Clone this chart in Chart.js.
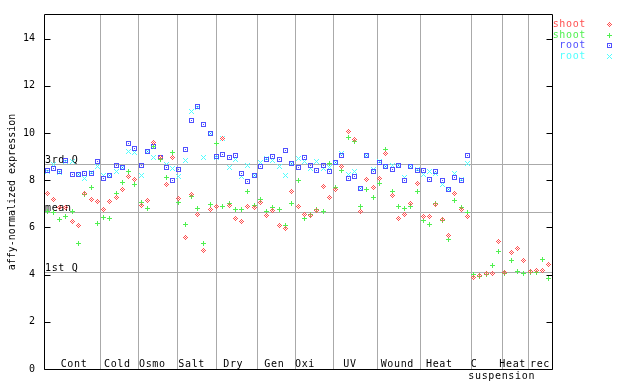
<!DOCTYPE html>
<html><head><meta charset="utf-8">
<script src="https://cdn.jsdelivr.net/npm/chart.js@4"></script>
<style>html,body{margin:0;padding:0;background:#fff}</style>
</head><body>
<canvas id="c" width="640" height="384"></canvas>
<script>
// ---- data (index = sample position 0..80) ----
const shootA = [7.45,7.20,6.85,6.85,6.27,6.06,7.45,7.20,7.10,6.76,7.10,7.27,7.61,8.15,8.04,6.94,7.14,9.61,8.97,7.82,8.97,7.23,5.58,7.40,6.55,5.03,6.76,6.90,9.76,6.94,6.38,6.25,6.90,6.84,7.06,6.52,6.72,6.06,5.96,7.52,6.90,6.56,6.51,6.72,7.75,7.27,7.62,8.56,10.07,9.73,6.68,8.03,7.69,8.07,9.15,7.34,6.38,6.56,7.01,7.86,6.48,6.48,6.99,6.34,5.65,7.44,6.76,6.47,3.89,3.96,4.06,4.06,5.42,4.10,4.94,5.11,4.58,4.13,4.18,4.16,4.41];
const shootB = [6.68,6.63,6.34,6.47,6.68,5.30,7.41,7.70,6.18,6.44,6.38,7.43,7.90,8.38,7.82,7.07,6.78,9.44,8.88,8.12,9.17,7.06,6.14,7.32,6.80,5.30,6.99,9.55,6.87,7.02,6.76,6.76,7.52,6.94,7.20,6.68,6.84,6.76,6.10,7.03,7.99,6.38,6.55,6.76,6.68,8.71,7.69,8.41,9.83,9.66,6.89,7.61,7.28,7.85,9.31,7.51,6.89,6.80,6.89,7.52,6.30,6.14,7.01,6.28,5.49,7.14,6.85,6.65,4.01,3.94,4.00,4.39,5.00,4.06,4.58,4.14,4.03,4.07,4.10,4.66,3.82];
const rootA = [8.39,8.50,8.35,8.82,8.24,8.26,8.28,8.28,8.78,8.09,8.21,8.61,8.55,9.55,9.34,8.61,9.20,9.44,8.98,8.55,8.00,8.46,9.30,10.52,11.12,10.35,9.96,8.99,9.09,8.97,9.04,8.28,7.96,8.18,8.58,8.86,9.00,8.87,9.25,8.71,8.54,8.96,8.62,8.41,8.62,8.37,8.73,9.04,8.07,8.17,7.63,9.03,8.38,8.76,8.58,8.45,8.61,7.99,8.58,8.42,8.41,8.03,8.37,7.99,7.59,8.11,8.00,9.04,null,null,null,null,null,null,null,null,null,null,null,null,null];
const rootB = [8.35,8.66,8.33,8.80,8.78,8.26,8.07,8.33,8.59,8.21,8.21,8.35,8.55,9.23,9.17,8.20,9.20,8.97,8.97,8.66,8.49,8.17,8.85,10.92,11.10,8.96,9.96,8.97,9.76,8.55,8.87,8.16,8.62,8.21,8.73,8.92,8.85,8.59,8.20,8.70,8.92,8.80,8.49,8.80,8.49,8.52,8.73,9.13,8.24,8.38,7.63,9.03,8.47,8.80,8.58,8.61,8.61,8.10,8.58,8.47,8.24,8.37,8.27,7.82,7.59,8.28,8.04,8.71,null,null,null,null,null,null,null,null,null,null,null,null,null];

const seriesLabels = ['shoot','shoot','root','root'];
const groupLabels = ['Cont','Cold','Osmo','Salt','Dry','Gen','Oxi','UV','Wound','Heat','C','Heat','rec'];
const groupLabelPos = [4.28,11.19,16.77,23.05,29.68,36.22,41.12,48.29,55.84,62.53,68.06,74.23,78.59];
const subLabel = 'suspension';
const subLabelPos = 72.48;
const groupBounds = [8.48,14.54,20.66,26.88,33.51,39.52,45.63,52.55,59.45,67.54,72.58,76.67];
const qLabels = ['3rd Q','mean','1st Q'];
const qValues = [8.70,6.65,4.10];
const yTickValues = [0,2,4,6,8,10,12,14];

// ---- marker bitmaps ----
function bitmap(rows, color){
  const c=document.createElement('canvas'); c.width=rows[0].length; c.height=rows.length;
  const g=c.getContext('2d'); g.fillStyle=color;
  rows.forEach((r,j)=>{for(let i=0;i<r.length;i++) if(r[i]==='X') g.fillRect(i,j,1,1);});
  return c;
}
const colors = ['#ff5050','#50f050','#5050ff','#50ffff'];
const markers = [
  bitmap(['..X..','.X.X.','X.X.X','.X.X.','..X..'], colors[0]),
  bitmap(['..X..','..X..','XXXXX','..X..','..X..'], colors[1]),
  bitmap(['XXXXX','X...X','X.X.X','X...X','XXXXX'], colors[2]),
  bitmap(['X...X','.X.X.','..X..','.X.X.','X...X'], colors[3])
];
const toPts = arr => arr.map((v,i)=> v==null?null:{x:i,y:v}).filter(p=>p);

const FONT = '10px "DejaVu Sans Mono"';
const extras = {
  id:'extras',
  beforeDatasetsDraw(chart){
    const {ctx, chartArea:a, scales:{x,y}} = chart;
    ctx.save();
    ctx.strokeStyle='#aaaaaa'; ctx.lineWidth=1;
    ctx.beginPath();
    groupBounds.forEach(b=>{const px=Math.round(x.getPixelForValue(b))+0.5; ctx.moveTo(px,a.top); ctx.lineTo(px,a.bottom);});
    qValues.forEach(v=>{const py=Math.round(y.getPixelForValue(v))+0.5; ctx.moveTo(a.left,py); ctx.lineTo(a.right,py);});
    ctx.stroke();
    ctx.fillStyle='#000'; ctx.font=FONT; ctx.letterSpacing='0.65px';
    ctx.textAlign='left'; ctx.textBaseline='alphabetic';
    qValues.forEach((v,k)=>{const py=Math.round(y.getPixelForValue(v)); ctx.fillText(qLabels[k], a.left+1, py-1);});
    ctx.textAlign='center';
    groupLabels.forEach((t,k)=>ctx.fillText(t, x.getPixelForValue(groupLabelPos[k]), a.bottom-2));
    ctx.fillText(subLabel, x.getPixelForValue(subLabelPos), a.bottom+10);
    ctx.restore();
    ctx.imageSmoothingEnabled=false;
  },
  afterDraw(chart){
    const {ctx, chartArea:a, scales:{y}} = chart;
    ctx.save();
    ctx.strokeStyle='#000'; ctx.lineWidth=1;
    const L=Math.round(a.left)+0.5, R=Math.round(a.right)+0.5, T=Math.round(a.top)-0.5, B=Math.round(a.bottom)+0.5;
    ctx.beginPath();
    ctx.moveTo(L,T); ctx.lineTo(R,T); ctx.lineTo(R,B); ctx.lineTo(L,B); ctx.closePath();
    yTickValues.forEach(v=>{const py=Math.round(y.getPixelForValue(v))+0.5; ctx.moveTo(L,py); ctx.lineTo(L+6,py); ctx.moveTo(R,py); ctx.lineTo(R-6,py);});
    ctx.stroke();
    ctx.font=FONT; ctx.letterSpacing='0.65px'; ctx.textAlign='right'; ctx.textBaseline='alphabetic';
    ctx.imageSmoothingEnabled=false;
    seriesLabels.forEach((t,k)=>{
      const base = 27 + k*10.6;
      ctx.fillStyle=colors[k];
      ctx.fillText(t, 586, base);
      ctx.drawImage(markers[k], 607, Math.round(base-5));
    });
    ctx.restore();
  }
};

new Chart(document.getElementById('c'), {
  type:'scatter',
  data:{datasets:[
    {label:seriesLabels[0], data:toPts(shootA), pointStyle:markers[0], pointRadius:3},
    {label:seriesLabels[1], data:toPts(shootB), pointStyle:markers[1], pointRadius:3},
    {label:seriesLabels[2], data:toPts(rootA), pointStyle:markers[2], pointRadius:3},
    {label:seriesLabels[3], data:toPts(rootB), pointStyle:markers[3], pointRadius:3}
  ]},
  options:{
    responsive:false, animation:false, devicePixelRatio:1,
    layout:{padding:{left:0,right:88,top:14,bottom:15}},
    plugins:{legend:{display:false}, tooltip:{enabled:false}},
    scales:{
      x:{type:'linear', min:-0.5, max:80.5, display:false},
      y:{type:'linear', min:0, max:15,
         afterFit(s){s.width=44;},
         afterBuildTicks(s){s.ticks=yTickValues.map(v=>({value:v}));},
         grid:{display:false, drawTicks:false},
         border:{display:false},
         ticks:{color:'#000', font:{family:'DejaVu Sans Mono', size:10}, padding:9},
         title:{display:true, text:'affy-normalized expression', color:'#000', font:{family:'DejaVu Sans Mono', size:10}, padding:{top:6,bottom:0}}
      }
    }
  },
  plugins:[extras]
});
</script>
</body></html>
